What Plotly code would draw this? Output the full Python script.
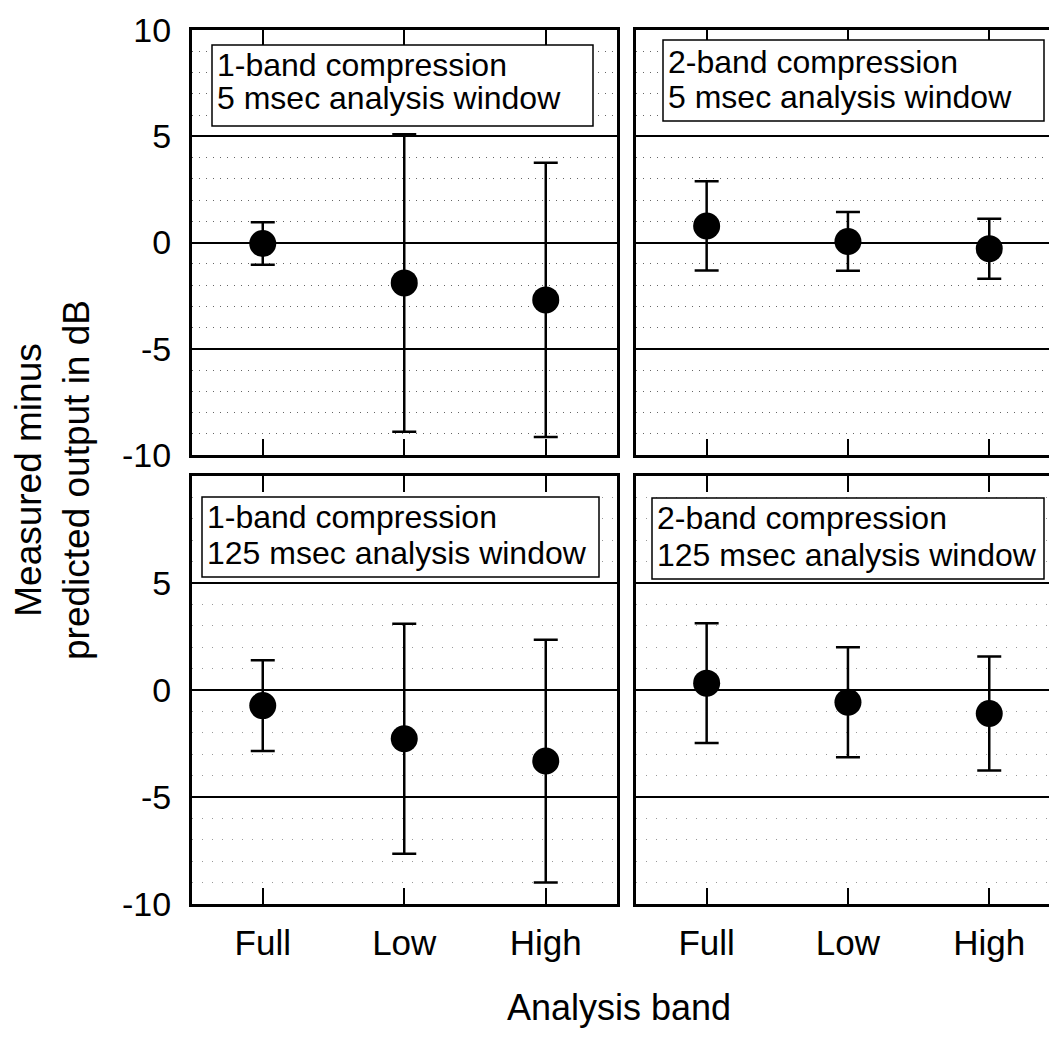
import plotly.graph_objects as go

# Analysis bands on the x axis
bands = ["Full", "Low", "High"]

# Mean (measured - predicted) output in dB and error-bar half-lengths
one_band_5ms_mean = [-0.05, -1.90, -2.70]
one_band_5ms_err = [1.00, 7.00, 6.45]

two_band_5ms_mean = [0.78, 0.05, -0.29]
two_band_5ms_err = [2.10, 1.38, 1.41]

one_band_125ms_mean = [-0.73, -2.28, -3.32]
one_band_125ms_err = [2.12, 5.37, 5.67]

two_band_125ms_mean = [0.32, -0.57, -1.10]
two_band_125ms_err = [2.80, 2.57, 2.66]

panel_titles = [
    ("1-band compression", "5 msec analysis window"),
    ("2-band compression", "5 msec analysis window"),
    ("1-band compression", "125 msec analysis window"),
    ("2-band compression", "125 msec analysis window"),
]

W, H = 1049, 1040
FONT = "Liberation Sans, Arial, Helvetica, sans-serif"

def px_x(v):
    return v / W

def px_y(v):
    return 1 - v / H

xpos = list(range(1, len(bands) + 1))

# panel layout (pixels): left/right columns, top/bottom rows
col_dom = [[px_x(192), px_x(616.5)], [px_x(636), 1.0]]
row_dom = [[px_y(455), px_y(30)], [px_y(904), px_y(476)]]
col_range = [[0.5, 3.5], [0.5, 0.5 + (W - 636) / 141.3]]

series = [
    (one_band_5ms_mean, one_band_5ms_err),
    (two_band_5ms_mean, two_band_5ms_err),
    (one_band_125ms_mean, one_band_125ms_err),
    (two_band_125ms_mean, two_band_125ms_err),
]

fig = go.Figure()
layout = {}

for i, (mean, err) in enumerate(series):
    r, c = divmod(i, 2)
    n = "" if i == 0 else str(i + 1)
    fig.add_trace(go.Scatter(
        x=xpos, y=mean,
        mode="markers",
        marker=dict(size=27, color="black"),
        error_y=dict(type="data", array=err, symmetric=True,
                     color="black", thickness=2.5, width=12),
        xaxis="x" + n, yaxis="y" + n,
        showlegend=False, cliponaxis=False,
    ))

    dot_color = "#666666" if r == 0 else "#999999"
    dot_dash = "1px,6px" if r == 0 else "1px,9px"

    layout["xaxis" + n] = dict(
        domain=col_dom[c], range=col_range[c], anchor="y" + n,
        tickmode="array", tickvals=xpos, ticktext=bands,
        showticklabels=(r == 1),
        ticks="inside", ticklen=16, tickwidth=2, tickcolor="black",
        showline=True, linecolor="black", linewidth=3, mirror="ticks",
        showgrid=False, zeroline=False, automargin=False,
        tickfont=dict(family=FONT, size=35, color="black"),
        ticklabelstandoff=6,
    )
    yticks = [-10, -5, 0, 5, 10] if r == 0 else [-10, -5, 0, 5]
    layout["yaxis" + n] = dict(
        domain=row_dom[r], range=[-10, 10], anchor="x" + n,
        tickmode="array", tickvals=yticks, ticktext=[str(v) for v in yticks],
        showticklabels=(c == 0),
        ticks="",
        showline=True, linecolor="black", linewidth=3, mirror=(c == 0),
        showgrid=True, gridcolor="black", gridwidth=2,
        zeroline=False, automargin=False,
        minor=dict(tickmode="linear", tick0=0, dtick=1, showgrid=True,
                   gridcolor=dot_color, griddash=dot_dash, gridwidth=1),
        tickfont=dict(family=FONT, size=34, color="black"),
        ticklabelstandoff=11,
    )

# label boxes in the top-left corner of each panel (pixel coordinates)
boxes = [
    (212, 593, 45, 126, 65, 98),
    (663, 1044, 40, 121, 62, 97),
    (202, 599, 497, 577, 517, 553),
    (652, 1044, 498, 579, 518, 555),
]

shapes = []
annotations = []
for (x0, x1, y0, y1, t1, t2), (line1, line2) in zip(boxes, panel_titles):
    shapes.append(dict(
        type="rect", xref="paper", yref="paper",
        x0=px_x(x0), x1=px_x(x1), y0=px_y(y1), y1=px_y(y0),
        line=dict(color="black", width=1.5), fillcolor="white", layer="above",
    ))
    for txt, ty in ((line1, t1), (line2, t2)):
        annotations.append(dict(
            text=txt, xref="paper", yref="paper",
            x=px_x(x0 + 3), y=px_y(ty), xanchor="left", yanchor="middle",
            showarrow=False, font=dict(family=FONT, size=32, color="black"),
        ))

# axis titles
annotations.append(dict(
    text="Analysis band", xref="paper", yref="paper",
    x=px_x(619), y=px_y(1007), xanchor="center", yanchor="middle",
    showarrow=False, font=dict(family=FONT, size=36, color="black"),
))
annotations.append(dict(
    text="Measured minus<br>predicted output in dB", xref="paper", yref="paper",
    x=px_x(52), y=px_y(480), xanchor="center", yanchor="middle",
    textangle=-90, showarrow=False,
    font=dict(family=FONT, size=37, color="black"),
))

fig.update_layout(
    width=W, height=H,
    margin=dict(l=0, r=0, t=0, b=0, pad=0, autoexpand=False),
    paper_bgcolor="white", plot_bgcolor="white",
    shapes=shapes, annotations=annotations,
    **layout,
)

fig.write_html("out.html")
